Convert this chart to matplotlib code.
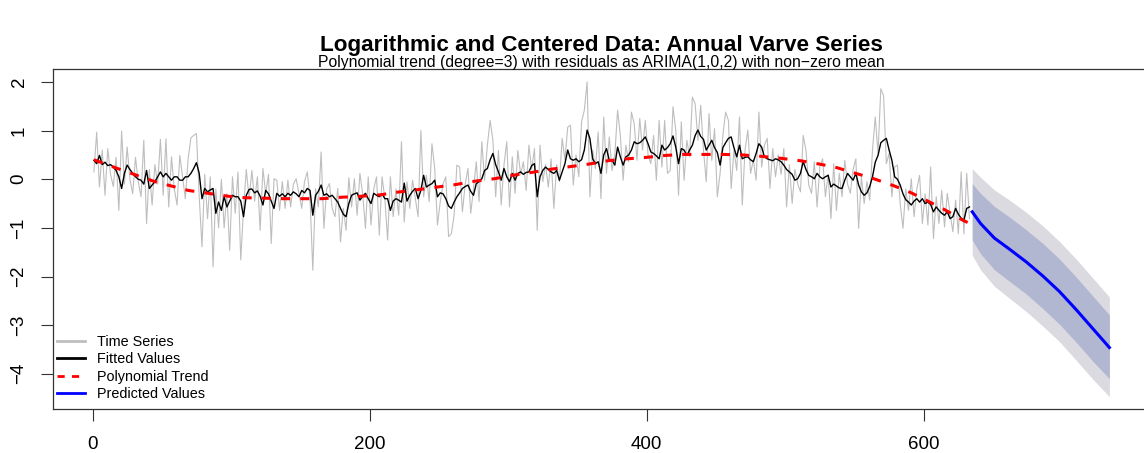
import numpy as np
import matplotlib
matplotlib.use("Agg")
import matplotlib.pyplot as plt
from matplotlib.lines import Line2D

plt.rcParams['font.family'] = ['Liberation Sans', 'DejaVu Sans']

# ---- data ----
# observed log-centered series (every 2nd year, t = 1, 3, ..., 633)
series_vals = [
    0.15, 0.97, -0.16, 0.60, -0.33, 0.63, 0.10, -0.15, 0.45, -0.64,
    0.99, -0.10, 0.66, 0.00, -0.30, 0.45, -0.05, -0.36, 0.80, -0.91,
    0.20, -0.53, 0.30, -0.10, 0.82, -0.33, 0.83, -0.57, 0.46, -0.20,
    -0.53, 0.49, 0.05, -0.40, 0.42, 0.85, 0.90, 0.94, -0.35, -1.39,
    0.10, -0.81, 0.05, -1.80, -0.20, -1.00, 0.00, -1.00, -0.30, -1.46,
    0.05, -0.70, 0.15, -1.66, -0.60, 0.20, -0.40, 0.18, -0.45, 0.05,
    -1.05, 0.22, -0.30, 0.10, -1.32, 0.01, -0.02, -0.64, -0.05, -0.60,
    -0.02, -0.57, -0.10, 0.01, -0.30, -0.60, -0.05, 0.15, -0.40, -1.87,
    -0.20, -0.57, 0.56, -1.01, -0.20, -0.09, -0.60, -0.77, -0.19, -1.29,
    -0.60, -1.05, 0.03, -0.57, 0.01, -0.74, 0.12, -0.30, -1.01, 0.05,
    -0.94, -0.20, 0.05, -1.15, 0.05, -0.40, -1.25, 0.05, -0.77, -0.20,
    -0.74, 0.77, -0.88, -0.05, -0.60, -0.02, -0.40, -0.77, 1.00, -0.36,
    0.08, -0.46, 0.73, 0.22, -0.94, -0.46, -0.10, 0.05, -1.18, -1.12,
    -0.74, 0.29, 0.25, -0.67, -0.10, 0.22, -0.70, -0.20, 0.36, -0.46,
    0.77, -0.02, 0.70, 1.21, 0.80, -0.36, 0.59, -0.53, 0.30, 0.77,
    -0.57, 0.46, -0.29, 0.59, 0.10, 0.36, -0.23, 0.70, 0.20, 0.63,
    -1.05, 0.70, -0.05, 0.30, -0.16, 0.42, -0.60, 0.30, -0.05, 0.84,
    0.40, 1.07, 1.11, -0.12, 0.50, 0.05, 1.18, 1.42, 2.00, -0.36,
    0.60, 0.22, 0.97, -0.40, 1.28, 0.12, 0.87, 0.18, 0.50, 1.42,
    0.90, -0.02, 0.70, 0.36, 1.38, 1.14, 0.39, 1.25, 0.60, 1.21,
    0.50, 0.32, 0.90, -0.02, 1.21, 0.25, 1.21, 0.12, 0.18, 1.49,
    1.01, -0.33, 1.18, -0.02, 0.80, 0.46, 1.69, 1.55, 0.80, 1.52,
    0.60, -0.05, 1.35, 0.39, 1.04, -0.36, 0.12, 0.90, 1.38, 1.21,
    -0.19, 0.60, 0.18, 1.28, -0.53, 0.60, 1.01, 0.12, 0.40, -0.02,
    1.38, 0.25, 0.70, 0.84, -0.19, 0.63, 0.05, 0.50, 0.10, 0.63,
    -0.57, 0.30, -0.50, 0.20, -0.09, -0.26, 0.90, 0.59, -0.12, -0.29,
    0.36, -0.57, 0.25, 0.42, -0.36, 0.10, -0.81, 0.32, -0.64, 0.12,
    -0.36, 0.39, -0.10, -0.29, 0.20, 0.42, -1.01, 0.05, -0.50, -0.05,
    -0.43, 0.60, 1.28, 0.53, 1.86, 1.72, 0.32, 0.53, -0.36, 0.25,
    0.29, -0.50, -1.01, -0.20, -0.64, 0.01, -0.77, -0.20, 0.08, -0.91,
    -0.30, -0.94, 0.25, -1.22, -0.36, -0.91, -0.23, -0.98, -0.29, -0.70,
    -1.08, -0.43, -1.12, 0.15, -1.12, 0.12, -0.81,
]
series_t = np.arange(1, 634, 2)

# fitted values (every 2nd year, t = 1, 3, ..., 633)
fitted_vals = [
    # t 1 .. 103
    0.39, 0.32, 0.49, 0.30, 0.35, 0.28, 0.30, 0.25, 0.18, 0.05,
    -0.19, 0.12, 0.29, 0.20, 0.12, 0.05, 0.00, -0.02, -0.10, 0.18,
    -0.19, -0.12, -0.05, 0.05, 0.15, 0.05, 0.12, 0.05, -0.02, 0.05,
    0.05, -0.02, -0.02, 0.05, 0.05, 0.12, 0.22, 0.34, 0.12, -0.40,
    -0.19, -0.26, -0.22, -0.19, -0.70, -0.47, -0.64, -0.36, -0.57, -0.45,
    -0.33, -0.36,
    # t 105 .. 211
    -0.36, -0.45, -0.77, -0.33, -0.21, -0.20, -0.28, -0.24, -0.35, -0.53,
    -0.23, -0.30, -0.45, -0.60, -0.29, -0.35, -0.30, -0.36, -0.29, -0.33,
    -0.26, -0.30, -0.36, -0.23, -0.28, -0.19, -0.23, -0.74, -0.33, -0.25,
    -0.12, -0.33, -0.30, -0.36, -0.33, -0.40, -0.47, -0.60, -0.72, -0.77,
    -0.50, -0.33, -0.30, -0.28, -0.43, -0.35, -0.29, -0.40, -0.50, -0.29,
    -0.33, -0.36, -0.30, -0.40,
    # t 213 .. 319
    -0.40, -0.64, -0.45, -0.40, -0.43, -0.47, -0.08, -0.45, -0.33, -0.25,
    -0.19, -0.40, -0.23, 0.08, -0.16, -0.12, -0.09, -0.02, -0.36, -0.28,
    -0.30, -0.40, -0.55, -0.60, -0.47, -0.36, -0.28, -0.19, -0.15, -0.12,
    -0.25, -0.33, -0.09, -0.05, 0.01, 0.18, 0.22, 0.40, 0.53, 0.30,
    0.15, -0.02, 0.22, 0.05, -0.05, 0.12, -0.02, 0.12, 0.15, 0.10,
    0.14, 0.15, 0.28, 0.32,
    # t 321 .. 429
    -0.36, 0.05, 0.18, 0.25, 0.20, 0.15, 0.12, 0.18, -0.02, 0.15,
    0.32, 0.60, 0.42, 0.39, 0.42, 0.36, 0.40, 0.60, 1.01, 0.84,
    0.42, 0.32, 0.36, 0.12, 0.50, 0.63, 0.39, 0.39, 0.29, 0.66,
    0.46, 0.29, 0.46, 0.50, 0.60, 0.77, 0.73, 0.75, 0.80, 0.87,
    0.73, 0.56, 0.53, 0.48, 0.42, 0.70, 0.60, 0.65, 0.73, 0.89,
    0.66, 0.32, 0.63, 0.60, 0.49,
    # t 431 .. 537
    0.60, 0.70, 0.90, 1.01, 0.88, 0.82, 0.60, 0.70, 0.80, 0.65,
    0.55, 0.29, 0.65, 0.75, 0.84, 0.87, 0.65, 0.46, 0.70, 0.42,
    0.45, 0.46, 0.40, 0.36, 0.53, 0.73, 0.66, 0.46, 0.42, 0.40,
    0.38, 0.42, 0.40, 0.36, 0.29, 0.20, 0.15, 0.10, -0.02, 0.01,
    0.12, 0.36, 0.20, 0.08, 0.05, 0.01, 0.12, 0.05, 0.01, 0.05,
    0.08, -0.16, -0.10, -0.14,
    # t 539 .. 633
    -0.18, -0.19, -0.02, 0.12, 0.05, -0.02, 0.12, -0.12, -0.26, -0.33,
    -0.28, -0.15, 0.05, 0.35, 0.49, 0.75, 0.80, 0.84, 0.60, 0.39,
    0.05, 0.00, -0.12, -0.30, -0.42, -0.47, -0.53, -0.45, -0.40, -0.47,
    -0.40, -0.50, -0.47, -0.52, -0.67, -0.57, -0.64, -0.70, -0.74, -0.67,
    -0.81, -0.77, -0.60, -0.72, -0.80, -0.84, -0.60, -0.57,
]
fitted_t = np.arange(1, 634, 2)

# cubic polynomial trend, read at these years
trend_t = [1, 20, 45, 69, 98, 110, 125, 138, 152, 166, 180, 194, 208, 219,
           236, 249, 262, 276, 290, 303, 317, 332, 345, 358, 372, 386, 400,
           414, 427, 442, 455, 469, 483, 497, 511, 525, 537, 551, 564, 578,
           591, 603, 616, 628, 634]
trend_vals = [0.40, 0.20, -0.05, -0.23, -0.35, -0.38, -0.39, -0.40, -0.40,
              -0.40, -0.37, -0.35, -0.32, -0.27, -0.21, -0.16, -0.11, -0.04,
              0.01, 0.08, 0.14, 0.21, 0.26, 0.31, 0.38, 0.42, 0.45, 0.49,
              0.51, 0.51, 0.51, 0.50, 0.47, 0.43, 0.38, 0.31, 0.24, 0.12,
              0.01, -0.13, -0.28, -0.45, -0.64, -0.84, -0.92]

# forecast, 100 steps ahead
fc_t = [635, 641, 651, 662, 674, 686, 698, 710, 722, 734]
fc_mean = [-0.67, -0.91, -1.21, -1.44, -1.70, -1.99, -2.31, -2.68, -3.07, -3.46]
fc_lo80 = [-1.25, -1.53, -1.86, -2.10, -2.36, -2.66, -2.98, -3.35, -3.74, -4.10]
fc_hi80 = [-0.09, -0.29, -0.56, -0.78, -1.04, -1.32, -1.64, -2.01, -2.40, -2.79]
fc_lo95 = [-1.56, -1.86, -2.20, -2.45, -2.72, -3.02, -3.34, -3.72, -4.11, -4.47]
fc_hi95 = [0.22, 0.04, -0.22, -0.43, -0.68, -0.96, -1.28, -1.64, -2.03, -2.42]

x_ticks = [0, 200, 400, 600]
y_ticks = [-4, -3, -2, -1, 0, 1, 2]
legend_labels = ['Time Series', 'Fitted Values', 'Polynomial Trend',
                 'Predicted Values']

# ---- figure ----
W, H = 1144, 453
fig = plt.figure(figsize=(W / 100, H / 100), dpi=100)
ax_left, ax_right, ax_top, ax_bottom = 53.3, 1150.0, 69.3, 409.3
ax = fig.add_axes([ax_left / W, 1 - ax_bottom / H,
                   (ax_right - ax_left) / W, (ax_bottom - ax_top) / H])

ax.plot(series_t, series_vals, color='#BEBEBE', lw=0.8)
ax.plot(fitted_t, fitted_vals, color='black', lw=1.0)
ax.plot(trend_t, trend_vals, color='red', lw=2.2, dashes=(3.0, 3.3))
ax.fill_between(fc_t, fc_lo95, fc_hi95, color='#DADAE0', lw=0)
ax.fill_between(fc_t, fc_lo80, fc_hi80, color='#B1B6D1', lw=0)
ax.plot(fc_t, fc_mean, color='#0000FF', lw=2.2)

ax.set_xlim(-28.32, 763.32)
ax.set_ylim(-4.73, 2.26)
ax.set_xticks(x_ticks)
ax.set_xticklabels([str(v) for v in x_ticks])
ax.set_yticks(y_ticks)
ax.set_yticklabels([str(v).replace('-', '\u2212') for v in y_ticks],
                   rotation=90, va='center')
ax.tick_params(axis='both', direction='out', length=8.5, width=0.8,
               colors='#333333', labelcolor='black', labelsize=13.5)
ax.tick_params(axis='x', pad=11)
ax.tick_params(axis='y', pad=10)
for s in ax.spines.values():
    s.set_color('#333333')
    s.set_linewidth(0.9)

handles = [
    Line2D([], [], color='#BEBEBE', lw=2.0),
    Line2D([], [], color='black', lw=2.0),
    Line2D([], [], color='red', lw=2.0, dashes=(2.6, 2.6)),
    Line2D([], [], color='#0000FF', lw=2.0),
]
ax.legend(handles, legend_labels, loc='lower left',
          bbox_to_anchor=(0.003, 0.023), frameon=False, fontsize=10.4,
          handlelength=1.95, handletextpad=0.85, labelspacing=0.25,
          borderpad=0, borderaxespad=0)

cx = ((ax_left + ax_right) / 2) / W
fig.text(cx, 1 - 51.5 / H, 'Logarithmic and Centered Data: Annual Varve Series',
         ha='center', va='baseline', fontsize=16.2, fontweight='bold')
fig.text(cx, 1 - 67.0 / H,
         'Polynomial trend (degree=3) with residuals as ARIMA(1,0,2) with non\u2212zero mean',
         ha='center', va='baseline', fontsize=11.3)

fig.savefig('out.png', dpi=100)
